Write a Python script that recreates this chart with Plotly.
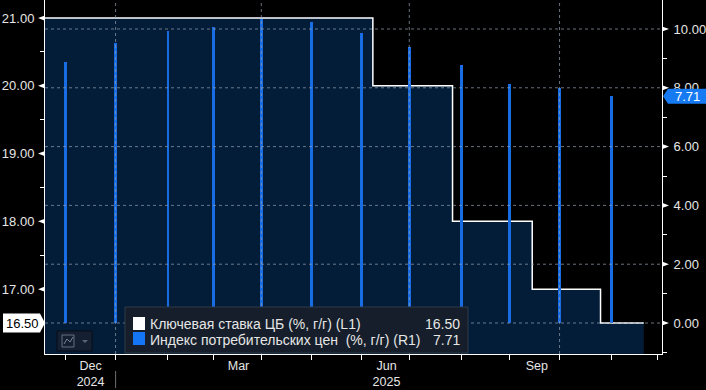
import plotly.graph_objects as go

# ---------------- data ----------------
rate_dates = ["2024-11-18", "2025-06-06", "2025-07-25", "2025-09-12", "2025-10-24", "2025-11-20"]
rate_values = [21.0, 20.0, 18.0, 17.0, 16.5, 16.5]

cpi_dates = ["2024-11-29", "2024-12-31", "2025-01-31", "2025-02-28", "2025-03-31", "2025-04-30",
             "2025-05-30", "2025-06-30", "2025-07-31", "2025-08-29", "2025-09-30", "2025-10-31"]
cpi_values = [8.88, 9.52, 9.92, 10.06, 10.34, 10.23, 9.88, 9.40, 8.79, 8.14, 7.98, 7.71]

month_ticks = cpi_dates + ["2025-11-28"]
quarter_lines = ["2024-12-31", "2025-03-31", "2025-06-30", "2025-09-30"]
label_dates = ["2024-12-16", "2025-03-17", "2025-06-16", "2025-09-16"]
label_text = ["Dec<br>2024", "Mar", "Jun<br>2025", "Sep"]
year_divider = "2024-12-31"

left_ticks = [17, 18, 19, 20, 21]
right_ticks = [0, 2, 4, 6, 8, 10]

series_names = ["Ключевая ставка ЦБ (%, г/г) (L1)",
                "Индекс потребительских цен\u00a0 (%, г/г) (R1)"]

x_range = ["2024-11-18", "2025-12-02"]
y_left_range = [16.043, 21.266]
y_right_range = [-1.054, 10.986]

# ---------------- style ----------------
FONT = "Liberation Sans, Arial, sans-serif"
TXT = "#e6e6e6"
NAVY = "rgb(3,29,56)"
BAR = "rgb(24,108,228)"
TAG_BLUE = "rgb(22,122,242)"
GRID = "rgba(140,152,168,0.75)"

W, H = 706, 390
L, R, T, B = 45, 44, 0, 36
PW, PH = W - L - R, H - T - B


def px(x):
    return (x - L) / PW


def py(y):
    return 1 - (y - T) / PH


fig = go.Figure()

fig.add_trace(go.Scatter(
    x=rate_dates, y=rate_values, mode="lines", line=dict(color="white", width=1.5, shape="hv"),
    fill="tozeroy", fillcolor=NAVY, hoverinfo="skip", showlegend=False))

fig.add_trace(go.Bar(
    x=cpi_dates, y=cpi_values, yaxis="y2", marker=dict(color=BAR, line=dict(width=0)),
    width=86400000 * 1.25, showlegend=False))

shapes = []
for v in right_ticks:
    shapes.append(dict(type="line", xref="paper", x0=0, x1=1, yref="y2", y0=v, y1=v,
                       line=dict(color=GRID, width=1, dash="3px,3px"), layer="above"))
for d in quarter_lines:
    shapes.append(dict(type="line", xref="x", x0=d, x1=d, yref="paper", y0=0, y1=1,
                       line=dict(color=GRID, width=1, dash="3px,3px"), layer="above"))
shapes.append(dict(type="line", xref="x", x0=year_divider, x1=year_divider, yref="paper",
                   y0=py(388), y1=py(371), line=dict(color="rgb(110,110,110)", width=1)))

hl = 2.6 / (PH / (y_left_range[1] - y_left_range[0]))
for v in left_ticks:
    shapes.append(dict(type="path", xref="paper", yref="y",
                       path=f"M {px(45)},{v + hl} L {px(38)},{v} L {px(45)},{v - hl} Z",
                       fillcolor="white", line=dict(width=0), layer="above"))
hr = 2.6 / (PH / (y_right_range[1] - y_right_range[0]))
for v in right_ticks:
    shapes.append(dict(type="path", xref="paper", yref="y2",
                       path=f"M {px(662)},{v + hr} L {px(669)},{v} L {px(662)},{v - hr} Z",
                       fillcolor="white", line=dict(width=0), layer="above"))

rl = rate_values[-1]
th = 9.5 / (PH / (y_left_range[1] - y_left_range[0]))
shapes.append(dict(type="path", xref="paper", yref="y",
                   path=f"M {px(3)},{rl + th} L {px(40)},{rl + th} L {px(45)},{rl} L {px(40)},{rl - th} L {px(3)},{rl - th} Z",
                   fillcolor="white", line=dict(width=0), layer="above"))
cl = cpi_values[-1]
th2 = 7.5 / (PH / (y_right_range[1] - y_right_range[0]))
shapes.append(dict(type="path", xref="paper", yref="y2",
                   path=f"M {px(663)},{cl} L {px(668)},{cl + th2} L {px(708)},{cl + th2} L {px(708)},{cl - th2} L {px(668)},{cl - th2} Z",
                   fillcolor=TAG_BLUE, line=dict(width=0), layer="above"))

shapes.append(dict(type="rect", xref="paper", yref="paper", x0=px(125), x1=px(468), y0=py(353), y1=py(307),
                   fillcolor="rgb(21,30,42)", line=dict(color="rgb(48,58,72)", width=1), layer="above"))
shapes.append(dict(type="rect", xref="paper", yref="paper", x0=px(133), x1=px(145), y0=py(330), y1=py(317),
                   fillcolor="white", line=dict(width=0), layer="above"))
shapes.append(dict(type="rect", xref="paper", yref="paper", x0=px(133), x1=px(145), y0=py(345), y1=py(332),
                   fillcolor="rgb(20,118,245)", line=dict(width=0), layer="above"))

shapes.append(dict(type="rect", xref="paper", yref="paper", x0=px(57), x1=px(92), y0=py(351), y1=py(331),
                   fillcolor="rgb(20,32,50)", line=dict(color="rgb(8,12,20)", width=1), layer="above"))
shapes.append(dict(type="rect", xref="paper", yref="paper", x0=px(62), x1=px(74), y0=py(347), y1=py(335),
                   fillcolor="rgba(0,0,0,0)", line=dict(color="rgb(100,110,125)", width=1), layer="above"))
shapes.append(dict(type="path", xref="paper", yref="paper",
                   path=f"M {px(64)},{py(344)} L {px(67)},{py(339)} L {px(70)},{py(342)} L {px(73)},{py(337)}",
                   line=dict(color="rgb(120,130,145)", width=1), layer="above"))
shapes.append(dict(type="path", xref="paper", yref="paper",
                   path=f"M {px(82)},{py(340)} L {px(88)},{py(340)} L {px(85)},{py(343)} Z",
                   fillcolor="rgb(90,100,115)", line=dict(width=0), layer="above"))

LEG = 14
annotations = [
    dict(xref="paper", yref="y", x=px(22), y=rl, text=f"{rl:.2f}", showarrow=False,
         font=dict(family=FONT, size=13, color="black"), xanchor="center", yanchor="middle"),
    dict(xref="paper", yref="y2", x=px(687), y=cl, text=f"{cl:.2f}", showarrow=False,
         font=dict(family=FONT, size=13, color="white"), xanchor="center", yanchor="middle"),
    dict(xref="paper", yref="paper", x=px(148), y=py(323.5), text=series_names[0], showarrow=False,
         font=dict(family=FONT, size=LEG, color=TXT), xanchor="left", yanchor="middle"),
    dict(xref="paper", yref="paper", x=px(462), y=py(323.5), text=f"{rate_values[-1]:.2f}", showarrow=False,
         font=dict(family=FONT, size=LEG, color=TXT), xanchor="right", yanchor="middle"),
    dict(xref="paper", yref="paper", x=px(148), y=py(339.5), text=series_names[1], showarrow=False,
         font=dict(family=FONT, size=LEG, color=TXT), xanchor="left", yanchor="middle"),
    dict(xref="paper", yref="paper", x=px(462), y=py(339.5), text=f"{cpi_values[-1]:.2f}", showarrow=False,
         font=dict(family=FONT, size=LEG, color=TXT), xanchor="right", yanchor="middle"),
]

fig.update_layout(
    width=W, height=H,
    margin=dict(l=L, r=R, t=T, b=B, pad=0, autoexpand=False),
    paper_bgcolor="black", plot_bgcolor="black",
    font=dict(family=FONT, size=13, color=TXT),
    showlegend=False,
    bargap=0,
    xaxis=dict(type="date", range=x_range, rangebreaks=[dict(bounds=["sat", "mon"])],
               tickmode="array", tickvals=label_dates, ticktext=label_text, ticks="",
               showgrid=False, zeroline=False, showline=True, linecolor="white", linewidth=1,
               automargin=False, ticklabelstandoff=0,
               tickfont=dict(family=FONT, size=12.5, color=TXT),
               minor=dict(tickmode="array", tickvals=month_ticks, ticks="outside", ticklen=5,
                          tickcolor="white", tickwidth=1, showgrid=False)),
    yaxis=dict(range=y_left_range, tickmode="array", tickvals=left_ticks, tickformat=".2f",
               ticks="", ticklabelstandoff=7, showgrid=False, zeroline=False, automargin=False,
               showline=True, linecolor="white", linewidth=1,
               tickfont=dict(family=FONT, size=13, color=TXT),
               minor=dict(dtick=0.5, tick0=16.5, ticks="outside", ticklen=4, tickcolor="white", showgrid=False)),
    yaxis2=dict(range=y_right_range, overlaying="y", side="right", tickmode="array", tickvals=right_ticks,
                tickformat=".2f", ticks="", ticklabelstandoff=8, showgrid=False, zeroline=False,
                automargin=False, showline=True, linecolor="white", linewidth=1,
                tickfont=dict(family=FONT, size=13, color=TXT),
                minor=dict(dtick=1, tick0=1, ticks="outside", ticklen=4, tickcolor="white", showgrid=False)),
    shapes=shapes,
    annotations=annotations,
)

fig.write_html("out.html", config={"displayModeBar": False},
               post_script="document.body.style.margin='0';document.body.style.padding='0';")
